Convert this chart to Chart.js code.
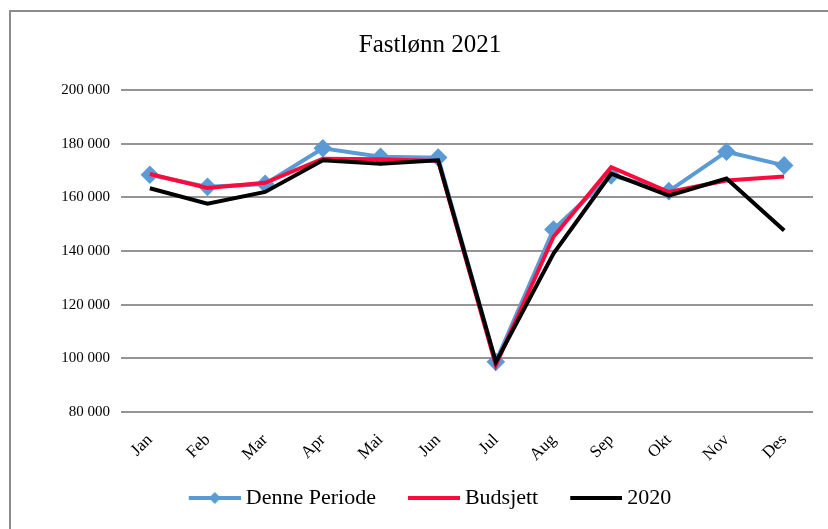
<!DOCTYPE html>
<html>
<head>
<meta charset="utf-8">
<script src="https://cdn.jsdelivr.net/npm/chart.js@4/dist/chart.umd.min.js"></script>
<style>
  html, body { margin: 0; padding: 0; background: #fff; }
  #wrap { position: relative; width: 828px; height: 529px; overflow: hidden; }
  #frame { position: absolute; left: 9px; top: 10px; width: 900px; height: 600px;
           border-left: 2px solid #8c8c8c; border-top: 2px solid #8c8c8c; box-sizing: border-box; }
  canvas { position: absolute; left: 0; top: 0; }
</style>
</head>
<body>
<div id="wrap">
  <div id="frame"></div>
  <canvas id="c" width="828" height="529"></canvas>
</div>
<script>
const months = ['Jan', 'Feb', 'Mar', 'Apr', 'Mai', 'Jun', 'Jul', 'Aug', 'Sep', 'Okt', 'Nov', 'Des'];
const dennePeriode = [168400, 163900, 165000, 178300, 175100, 174800, 98700, 148000, 168200, 162300, 177000, 171900];
const budsjett     = [168700, 163500, 165400, 174400, 174200, 173600, 97500, 145300, 171200, 162000, 166300, 167800];
const aar2020      = [163400, 157600, 162000, 173800, 172500, 173800, 98600, 139000, 168800, 160600, 167000, 147600];
const yTicks = [80000, 100000, 120000, 140000, 160000, 180000, 200000];

const BLUE = '#5b9bd5', RED = '#ff0a3c', BLACK = '#000000';
const SERIF = "'Liberation Serif', 'DejaVu Serif', serif";

// legend swatch: transparent lead-in, then a short thick line
// (optionally with a diamond marker) that ends just before the text
const SW_W = 80, LINE_W = 52;
function swatch(color, marker) {
  const cv = document.createElement('canvas');
  cv.width = SW_W; cv.height = 14;
  const g = cv.getContext('2d');
  const x0 = SW_W - LINE_W;
  g.strokeStyle = color; g.lineWidth = 4;
  g.beginPath(); g.moveTo(x0, 7); g.lineTo(SW_W, 7); g.stroke();
  if (marker) {
    const cx = x0 + LINE_W / 2;
    g.fillStyle = color;
    g.beginPath(); g.moveTo(cx, 1); g.lineTo(cx + 6, 7); g.lineTo(cx, 13); g.lineTo(cx - 6, 7); g.closePath(); g.fill();
  }
  return cv;
}
const swatches = [swatch(BLUE, true), swatch(RED, false), swatch(BLACK, false)];

// the lead-in of the first swatch is empty, so nudge the legend row left to centre what is visible
const legendNudge = {
  id: 'legendNudge',
  afterLayout(chart) {
    const lg = chart.legend;
    if (lg) { lg.left -= 11; lg.right -= 11; }
  }
};

new Chart(document.getElementById('c'), {
  type: 'line',
  data: {
    labels: months,
    datasets: [
      { label: 'Denne Periode', data: dennePeriode, borderColor: BLUE, backgroundColor: BLUE,
        borderWidth: 4, pointStyle: 'rectRot', pointRadius: 6.5, pointHoverRadius: 6.5, order: 3 },
      { label: 'Budsjett', data: budsjett, borderColor: RED, backgroundColor: RED,
        borderWidth: 4, pointRadius: 0, order: 2 },
      { label: '2020', data: aar2020, borderColor: BLACK, backgroundColor: BLACK,
        borderWidth: 4, pointRadius: 0, order: 1 }
    ]
  },
  plugins: [legendNudge],
  options: {
    responsive: false,
    animation: false,
    events: [],
    layout: { padding: { left: 47, right: 15, top: 0, bottom: 10 } },
    elements: { line: { tension: 0 } },
    plugins: {
      title: {
        display: true, text: 'Fastlønn 2021', color: '#000',
        font: { family: SERIF, size: 25, weight: 'normal' },
        padding: { top: 30, bottom: 30 }
      },
      legend: {
        position: 'bottom',
        labels: {
          color: '#000',
          font: { family: SERIF, size: 22 },
          usePointStyle: true,
          pointStyleWidth: SW_W - 12,
          boxHeight: 14,
          padding: 10,
          generateLabels: (chart) => chart.data.datasets.map((ds, i) => ({
            text: ds.label, pointStyle: swatches[i], datasetIndex: i,
            fillStyle: ds.borderColor, strokeStyle: ds.borderColor, lineWidth: 0, hidden: false
          }))
        }
      },
      tooltip: { enabled: false }
    },
    scales: {
      x: {
        offset: true,
        grid: { display: false, drawTicks: false },
        border: { display: false },
        ticks: { color: '#000', font: { family: SERIF, size: 17 }, minRotation: 45, maxRotation: 45, padding: 18 },
        afterFit: (s) => { s.height = 65; }
      },
      y: {
        min: 80000, max: 200000,
        afterBuildTicks: (s) => { s.ticks = yTicks.map(v => ({ value: v })); },
        grid: { color: '#959595', lineWidth: 2, drawTicks: false },
        border: { display: false },
        ticks: {
          color: '#000', font: { family: SERIF, size: 15 }, padding: 11,
          callback: (v) => String(v).replace(/\B(?=(\d{3})+(?!\d))/g, ' ')
        },
        afterFit: (s) => { s.width = 74; }
      }
    }
  }
});
</script>
</body>
</html>
